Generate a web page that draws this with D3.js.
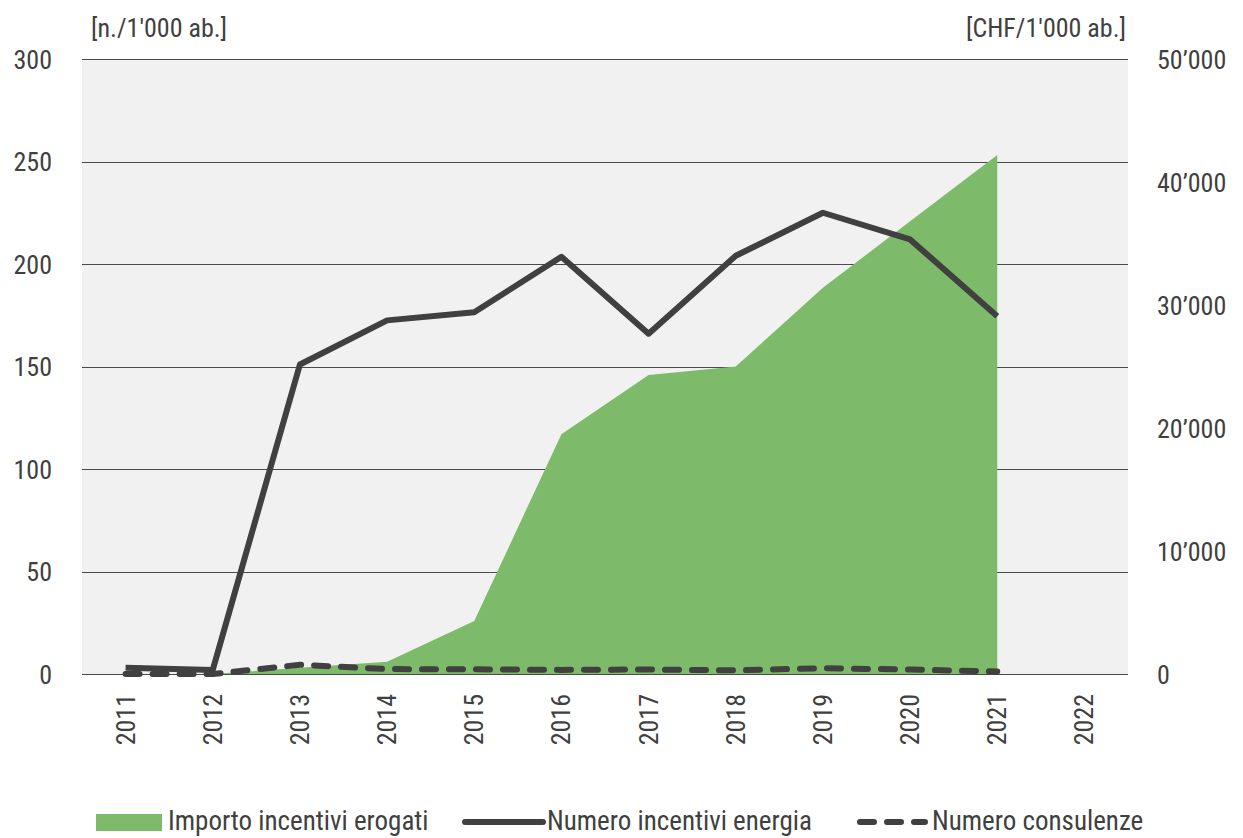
<!DOCTYPE html>
<html>
<head>
<meta charset="utf-8">
<script src="https://cdn.jsdelivr.net/npm/d3@7"></script>
<style>
  body { margin: 0; background: #fff; }
  text { font-family: "Roboto Condensed", "Liberation Sans Narrow", "DejaVu Sans Condensed", sans-serif; fill: #404040; }
</style>
</head>
<body>
<svg id="chart" width="1243" height="838"></svg>
<script>
// data
const years = ['2011','2012','2013','2014','2015','2016','2017','2018','2019','2020','2021','2022'];
const importo = [null, 0, 500, 1000, 4300, 19500, 24300, 25000, 31400, 36800, 42200, null];
const incentivi = [3, 2, 151, 172.5, 176.5, 203.5, 166, 204, 225, 212, 174.5, null];
const consulenze = [0, 0, 4.5, 2.4, 2.3, 2, 2.2, 1.8, 2.8, 2.2, 1.2, null];
const leftTicks = [0, 50, 100, 150, 200, 250, 300];
const rightTicks = [0, 10000, 20000, 30000, 40000, 50000];

const green = '#7dbb6a';
const dark = '#404040';

const svg = d3.select('#chart');
const margin = {left: 82, right: 115, top: 59, bottom: 164};
const W = 1243, H = 838;
const plotW = W - margin.left - margin.right;
const plotH = H - margin.top - margin.bottom;

const x = d3.scaleBand().domain(years).range([margin.left, margin.left + plotW]);
const cx = (d, i) => x(years[i]) + x.bandwidth() / 2;
const yL = d3.scaleLinear().domain([0, 300]).range([margin.top + plotH, margin.top]);
const yR = d3.scaleLinear().domain([0, 50000]).range([margin.top + plotH, margin.top]);

// background
svg.append('rect')
    .attr('x', margin.left).attr('y', margin.top)
    .attr('width', plotW).attr('height', plotH)
    .attr('fill', '#f1f1f1');

// gridlines
svg.append('g').selectAll('line').data(leftTicks).enter()
    .append('line')
    .attr('x1', margin.left).attr('x2', margin.left + plotW)
    .attr('y1', d => Math.round(yL(d)) + 0.5).attr('y2', d => Math.round(yL(d)) + 0.5)
    .attr('stroke', '#4a4a4a').attr('stroke-width', 1);

// area
const area = d3.area()
    .defined(d => d !== null)
    .x(cx)
    .y0(yR(0))
    .y1(d => yR(d));
svg.append('path').datum(importo)
    .attr('d', area)
    .attr('fill', green);

// lines
const line = d3.line().defined(d => d !== null).x(cx).y(d => yL(d));
svg.append('path').datum(incentivi)
    .attr('d', line)
    .attr('fill', 'none')
    .attr('stroke', dark)
    .attr('stroke-width', 6)
    .attr('stroke-linejoin', 'round');

svg.append('path').datum(consulenze)
    .attr('d', line)
    .attr('fill', 'none')
    .attr('stroke', dark)
    .attr('stroke-width', 6)
    .attr('stroke-linecap', 'round')
    .attr('stroke-dasharray', '14,13');

// left axis
const leftAxis = d3.axisLeft(yL).tickValues(leftTicks).tickSize(0).tickPadding(0);
const gl = svg.append('g').attr('transform', 'translate(52,0)').call(leftAxis);
gl.select('.domain').remove();
gl.selectAll('text').style('font-size', '26px').attr('fill', dark).attr('dy', '0.35em');

// right axis
const fmtR = d => d3.format(',')(d).replace(/,/g, '\u2019');
const rightAxis = d3.axisRight(yR).tickValues(rightTicks).tickSize(0).tickPadding(0).tickFormat(fmtR);
const gr = svg.append('g').attr('transform', 'translate(1157,0)').call(rightAxis);
gr.select('.domain').remove();
gr.selectAll('text').style('font-size', '26px').attr('fill', dark).attr('dy', '0.35em');

// x labels
svg.append('g').selectAll('text').data(years).enter()
    .append('text')
    .attr('transform', d => `translate(${x(d) + x.bandwidth() / 2 + 9},694) rotate(-90)`)
    .attr('text-anchor', 'end')
    .style('font-size', '26px')
    .text(d => d);

// unit labels
svg.append('text').attr('x', 91).attr('y', 37).style('font-size', '26px').text("[n./1'000 ab.]");
svg.append('text').attr('x', 1126).attr('y', 37).attr('text-anchor', 'end').style('font-size', '26px').text("[CHF/1'000 ab.]");

// legend
const ly = 821;
svg.append('rect').attr('x', 96).attr('y', ly - 7).attr('width', 66).attr('height', 17).attr('fill', green);
svg.append('text').attr('x', 168).attr('y', ly + 9).style('font-size', '27px').text('Importo incentivi erogati');
svg.append('line').attr('x1', 465).attr('x2', 543).attr('y1', ly + 1).attr('y2', ly + 1)
    .attr('stroke', dark).attr('stroke-width', 6).attr('stroke-linecap', 'round');
svg.append('text').attr('x', 547).attr('y', ly + 9).style('font-size', '27px').text('Numero incentivi energia');
svg.append('line').attr('x1', 860).attr('x2', 925).attr('y1', ly + 1).attr('y2', ly + 1)
    .attr('stroke', dark).attr('stroke-width', 6).attr('stroke-linecap', 'round')
    .attr('stroke-dasharray', '14,13');
svg.append('text').attr('x', 932).attr('y', ly + 9).style('font-size', '27px').text('Numero consulenze');
</script>
</body>
</html>
